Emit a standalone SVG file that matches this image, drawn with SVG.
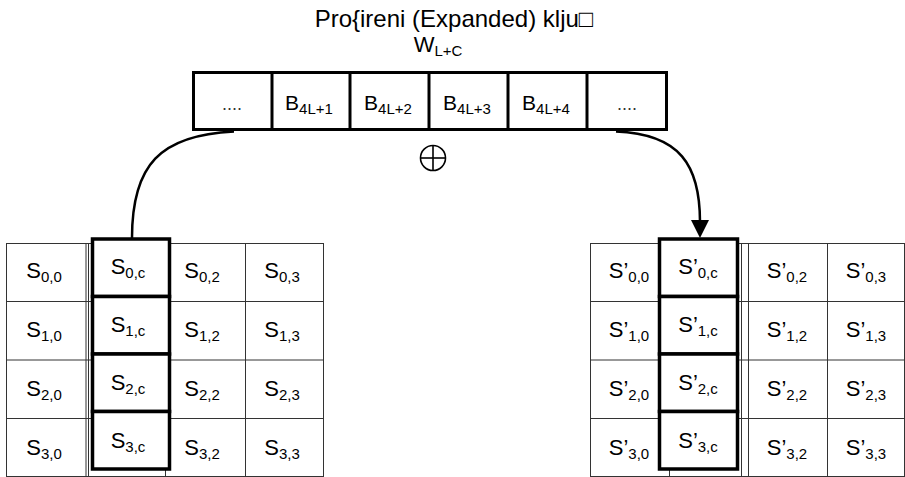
<svg xmlns="http://www.w3.org/2000/svg" width="905" height="477" viewBox="0 0 905 477">
  <style>
    text { font-family: "Liberation Sans", Arial, sans-serif; fill: #000; }
    .lbl { font-size: 22px; text-anchor: middle; }
    .blbl { font-size: 21px; text-anchor: middle; }
    .head { font-size: 24px; text-anchor: middle; }
    .sub { font-size: 15px; }
    .dots { font-size: 18px; text-anchor: middle; fill: #333; }
    .grid { fill: none; stroke: #333; stroke-width: 1; }
    .thick { fill: #fff; stroke: #000; stroke-width: 3.5; }
    .bar { fill: #fff; stroke: #000; stroke-width: 3; }
    .wire { fill: none; stroke: #000; stroke-width: 2.5; }
  </style>
  <rect width="905" height="477" fill="#fff"/>

  <!-- heading -->
  <g id="title">
    <text class="head" x="454" y="27">Pro{ireni (Expanded) klju□</text>
    <text class="lbl" x="438" y="52">W<tspan class="sub" dy="4">L+C</tspan></text>
  </g>

  <!-- expanded key word row -->
  <g id="keyrow">
    <rect class="bar" x="193.5" y="72.5" width="473" height="57"/>
    <line class="bar" x1="272" y1="72.5" x2="272" y2="129.5"/>
    <line class="bar" x1="350" y1="72.5" x2="350" y2="129.5"/>
    <line class="bar" x1="429" y1="72.5" x2="429" y2="129.5"/>
    <line class="bar" x1="508" y1="72.5" x2="508" y2="129.5"/>
    <line class="bar" x1="587" y1="72.5" x2="587" y2="129.5"/>
    <text class="dots" x="232" y="110">....</text>
    <text class="blbl" x="309" y="110">B<tspan class="sub" dy="4">4L+1</tspan></text>
    <text class="blbl" x="388" y="110">B<tspan class="sub" dy="4">4L+2</tspan></text>
    <text class="blbl" x="467" y="110">B<tspan class="sub" dy="4">4L+3</tspan></text>
    <text class="blbl" x="546" y="110">B<tspan class="sub" dy="4">4L+4</tspan></text>
    <text class="dots" x="627" y="110">....</text>
  </g>

  <!-- XOR symbol -->
  <g id="xor" fill="none" stroke="#000" stroke-width="1.6">
    <circle cx="433" cy="158" r="12.5"/>
    <line x1="420.5" y1="158" x2="445.5" y2="158"/>
    <line x1="433" y1="145.5" x2="433" y2="170.5"/>
  </g>

  <!-- input state -->
  <g id="state-in">
    <rect class="grid" x="6.5" y="243.5" width="317" height="233"/>
    <line class="grid" x1="86" y1="243.5" x2="86" y2="476.5"/>
    <line class="grid" x1="88.5" y1="243.5" x2="88.5" y2="476.5"/>
    <line class="grid" x1="165.5" y1="243.5" x2="165.5" y2="476.5"/>
    <line class="grid" x1="245.5" y1="243.5" x2="245.5" y2="476.5"/>
    <line class="grid" x1="6.5" y1="301.5" x2="323.5" y2="301.5"/>
    <line class="grid" x1="6.5" y1="360" x2="323.5" y2="360"/>
    <line class="grid" x1="6.5" y1="418.5" x2="323.5" y2="418.5"/>
    <rect class="thick" x="92.5" y="239" width="77" height="57.5"/>
    <rect class="thick" x="92.5" y="296.5" width="77" height="57.5"/>
    <rect class="thick" x="92.5" y="354" width="77" height="57.5"/>
    <rect class="thick" x="92.5" y="411.5" width="77" height="57.5"/>

    <text class="lbl" x="44" y="278">S<tspan class="sub" dy="4">0,0</tspan></text>
    <text class="lbl" x="128" y="274">S<tspan class="sub" dy="4">0,c</tspan></text>
    <text class="lbl" x="202" y="278">S<tspan class="sub" dy="4">0,2</tspan></text>
    <text class="lbl" x="282" y="278">S<tspan class="sub" dy="4">0,3</tspan></text>

    <text class="lbl" x="44" y="337">S<tspan class="sub" dy="4">1,0</tspan></text>
    <text class="lbl" x="128" y="332">S<tspan class="sub" dy="4">1,c</tspan></text>
    <text class="lbl" x="202" y="337">S<tspan class="sub" dy="4">1,2</tspan></text>
    <text class="lbl" x="282" y="337">S<tspan class="sub" dy="4">1,3</tspan></text>

    <text class="lbl" x="44" y="396">S<tspan class="sub" dy="4">2,0</tspan></text>
    <text class="lbl" x="128" y="390">S<tspan class="sub" dy="4">2,c</tspan></text>
    <text class="lbl" x="202" y="396">S<tspan class="sub" dy="4">2,2</tspan></text>
    <text class="lbl" x="282" y="396">S<tspan class="sub" dy="4">2,3</tspan></text>

    <text class="lbl" x="44" y="455">S<tspan class="sub" dy="4">3,0</tspan></text>
    <text class="lbl" x="128" y="448">S<tspan class="sub" dy="4">3,c</tspan></text>
    <text class="lbl" x="202" y="455">S<tspan class="sub" dy="4">3,2</tspan></text>
    <text class="lbl" x="282" y="455">S<tspan class="sub" dy="4">3,3</tspan></text>
  </g>

  <!-- output state -->
  <g id="state-out">
    <rect class="grid" x="590.5" y="243.5" width="314" height="233"/>
    <line class="grid" x1="669.5" y1="243.5" x2="669.5" y2="476.5"/>
    <line class="grid" x1="741.5" y1="243.5" x2="741.5" y2="476.5"/>
    <line class="grid" x1="748.5" y1="243.5" x2="748.5" y2="476.5"/>
    <line class="grid" x1="827.5" y1="243.5" x2="827.5" y2="476.5"/>
    <line class="grid" x1="590.5" y1="301.5" x2="904.5" y2="301.5"/>
    <line class="grid" x1="590.5" y1="360" x2="904.5" y2="360"/>
    <line class="grid" x1="590.5" y1="418.5" x2="904.5" y2="418.5"/>
    <rect class="thick" x="659.5" y="239" width="78" height="57.5"/>
    <rect class="thick" x="659.5" y="296.5" width="78" height="57.5"/>
    <rect class="thick" x="659.5" y="354" width="78" height="57.5"/>
    <rect class="thick" x="659.5" y="411.5" width="78" height="57.5"/>

    <text class="lbl" x="629" y="278">S’<tspan class="sub" dy="4">0,0</tspan></text>
    <text class="lbl" x="698" y="274">S’<tspan class="sub" dy="4">0,c</tspan></text>
    <text class="lbl" x="787" y="278">S’<tspan class="sub" dy="4">0,2</tspan></text>
    <text class="lbl" x="866" y="278">S’<tspan class="sub" dy="4">0,3</tspan></text>

    <text class="lbl" x="629" y="337">S’<tspan class="sub" dy="4">1,0</tspan></text>
    <text class="lbl" x="698" y="332">S’<tspan class="sub" dy="4">1,c</tspan></text>
    <text class="lbl" x="787" y="337">S’<tspan class="sub" dy="4">1,2</tspan></text>
    <text class="lbl" x="866" y="337">S’<tspan class="sub" dy="4">1,3</tspan></text>

    <text class="lbl" x="629" y="396">S’<tspan class="sub" dy="4">2,0</tspan></text>
    <text class="lbl" x="698" y="390">S’<tspan class="sub" dy="4">2,c</tspan></text>
    <text class="lbl" x="787" y="396">S’<tspan class="sub" dy="4">2,2</tspan></text>
    <text class="lbl" x="866" y="396">S’<tspan class="sub" dy="4">2,3</tspan></text>

    <text class="lbl" x="629" y="455">S’<tspan class="sub" dy="4">3,0</tspan></text>
    <text class="lbl" x="698" y="448">S’<tspan class="sub" dy="4">3,c</tspan></text>
    <text class="lbl" x="787" y="455">S’<tspan class="sub" dy="4">3,2</tspan></text>
    <text class="lbl" x="866" y="455">S’<tspan class="sub" dy="4">3,3</tspan></text>
  </g>

  <!-- connectors -->
  <g id="connectors">
    <path class="wire" d="M 234,131.5 C 160,135 132,165 132,238"/>
    <path class="wire" d="M 616,131.5 C 680,134 700,165 700,222"/>
    <polygon points="691,220 709,220 700,238" fill="#000"/>
  </g>
</svg>
